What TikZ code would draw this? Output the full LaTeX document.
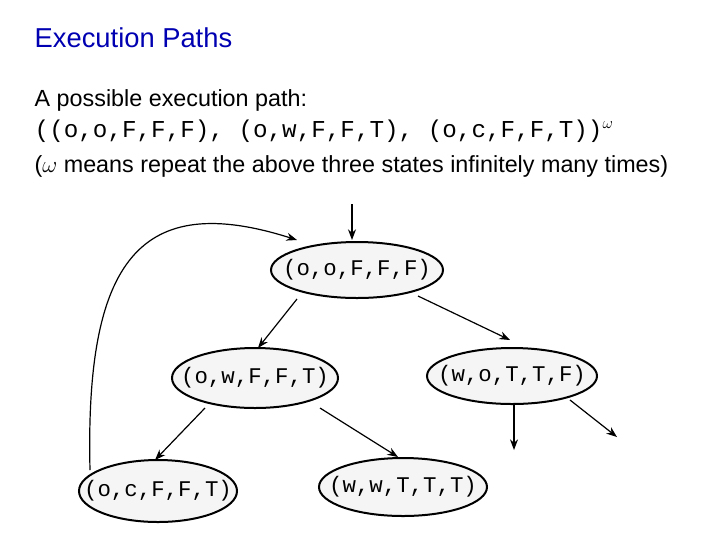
\documentclass[tikz,border=0pt]{standalone}
\usepackage{fontspec}
\setmainfont{Liberation Sans}
\newfontfamily\monof{Liberation Mono}
\usetikzlibrary{shapes.geometric,arrows.meta}
\begin{document}
\begin{tikzpicture}[x=0.75pt,y=-0.75pt,
  st/.style={ellipse,draw,line width=1.5pt,fill=gray!8,inner sep=0pt},
  lb/.style={font=\monof\fontsize{16.8}{20}\selectfont,inner sep=0pt},
  ar/.style={-{Stealth[length=8pt,width=6pt]},line width=0.9pt}]
\useasboundingbox (0,0) rectangle (720,540);
\node[anchor=west,text=blue!70!black,font=\fontsize{20.5}{24}\selectfont] (t) at (30,38) {Execution Paths};
\node[anchor=west,font=\fontsize{17.5}{20}\selectfont] (l1) at (30,100) {A possible execution path:};
\node[anchor=west,font=\monof\fontsize{18.2}{20}\selectfont] (l2) at (30,131) {((o,o,F,F,F), (o,w,F,F,T), (o,c,F,F,T))$^{\omega}$};
\node[anchor=west,font=\fontsize{17.5}{20}\selectfont] (l3) at (30,166) {($\omega$ means repeat the above three states infinitely many times)};
\node[st,minimum width=172*0.75pt,minimum height=56*0.75pt] (A) at (357,270) {};
\node[st,minimum width=166*0.75pt,minimum height=60*0.75pt] (B) at (255,378) {};
\node[st,minimum width=170*0.75pt,minimum height=56*0.75pt] (C) at (512,376) {};
\node[st,minimum width=158*0.75pt,minimum height=62*0.75pt] (D) at (158,491) {};
\node[st,minimum width=168*0.75pt,minimum height=58*0.75pt] (E) at (403,487) {};
\node[lb] (tA) at (A) {(o,o,F,F,F)};
\node[lb] (tB) at (B) {(o,w,F,F,T)};
\node[lb] (tC) at (C) {(w,o,T,T,F)};
\node[lb] (tD) at (D) {(o,c,F,F,T)};
\node[lb] (tE) at (E) {(w,w,T,T,T)};
\coordinate (in) at (352,204);
\coordinate (c1) at (514,450);
\coordinate (c2) at (617,437);
\draw[ar] (in) -- (352,240);
\draw[ar] (297,299) -- (258,348);
\draw[ar] (418,296) -- (510,340);
\draw[ar] (205,408) -- (155,460);
\draw[ar] (320,408) -- (398,457);
\draw[ar] (514,404) -- (c1);
\draw[ar] (570,400) -- (c2);
\draw[ar] (90,470) .. controls (85,260) and (140,190) .. (297,240);
\end{tikzpicture}
\end{document}
